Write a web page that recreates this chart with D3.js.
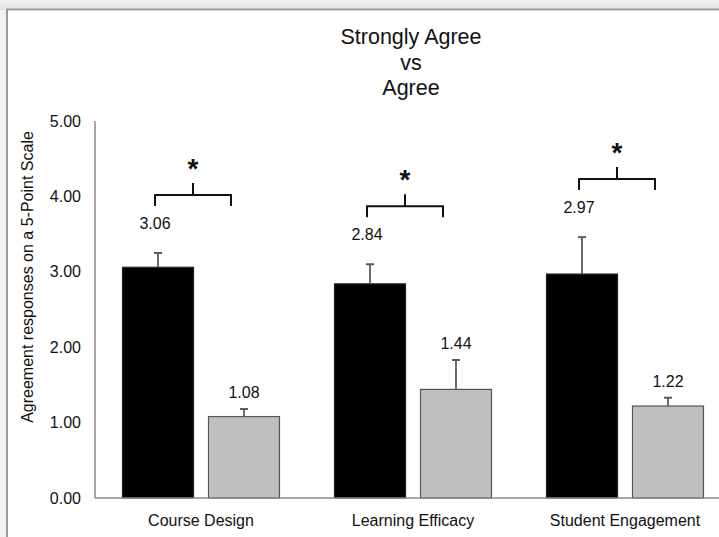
<!DOCTYPE html>
<html>
<head>
<meta charset="utf-8">
<script src="https://cdn.jsdelivr.net/npm/d3@7"></script>
<style>
  html, body { margin: 0; padding: 0; background: #ececec; }
  svg { display: block; }
  text { font-family: "Liberation Sans", Arial, Helvetica, sans-serif; fill: #111; }
</style>
</head>
<body>
<svg id="chart" width="719" height="537"></svg>
<script>
// Categories and series
const categories = ["Course Design", "Learning Efficacy", "Student Engagement"];
const seriesNames = ["Strongly Agree", "Agree"];
const stronglyAgree = [3.06, 2.84, 2.97];
const stronglyAgreeErr = [0.19, 0.26, 0.49];
const agree = [1.08, 1.44, 1.22];
const agreeErr = [0.10, 0.39, 0.11];
const significant = [true, true, true];
const yTicks = [0, 1, 2, 3, 4, 5];
const titleLines = ["Strongly Agree", "vs", "Agree"];
const yAxisTitle = "Agreement responses on a 5-Point Scale";

const svg = d3.select("#chart");
const W = 719, H = 537;

// Window-style backdrop with a framed white panel
const defs = svg.append("defs");
const grad = defs.append("linearGradient").attr("id", "topbar").attr("x1", 0).attr("x2", 0).attr("y1", 0).attr("y2", 1);
grad.append("stop").attr("offset", "0%").attr("stop-color", "#f4f4f4");
grad.append("stop").attr("offset", "100%").attr("stop-color", "#e2e2e2");
svg.append("rect").attr("x", 0).attr("y", 0).attr("width", W).attr("height", H).attr("fill", "#f1f1f1");
svg.append("rect").attr("x", 0).attr("y", 0).attr("width", W).attr("height", 10).attr("fill", "url(#topbar)");
svg.append("rect").attr("x", 7).attr("y", 9.5).attr("width", W + 20).attr("height", H + 20)
  .attr("fill", "#fff").attr("stroke", "#9a9a9a").attr("stroke-width", 2);

// Scales
const y = d3.scaleLinear().domain([0, 5]).range([498, 121]);
const x = d3.scaleBand().domain(categories).range([95, 731]).paddingInner(0).paddingOuter(0);
const xs = d3.scaleBand().domain(seriesNames).range([0, x.bandwidth()])
  .paddingInner(0.1744).paddingOuter(0.32);

const rows = categories.map((c, i) => ({
  cat: c,
  vals: [
    { s: seriesNames[0], v: stronglyAgree[i], e: stronglyAgreeErr[i] },
    { s: seriesNames[1], v: agree[i], e: agreeErr[i] }
  ],
  sig: significant[i]
}));

const fills = { "Strongly Agree": "#000000", "Agree": "#bfbfbf" };
const strokes = { "Strongly Agree": "#222", "Agree": "#555" };
const labelGap = { "Strongly Agree": 24, "Agree": 11 };
const labelShift = { "Strongly Agree": -3, "Agree": 0 };

// Title
svg.append("g").selectAll("text").data(titleLines).join("text")
  .attr("x", 411).attr("y", (d, i) => 44 + i * 25.5)
  .attr("text-anchor", "middle").attr("font-size", 21.5)
  .text(d => d);

// Y axis (line + labels, no tick marks)
const yAxis = d3.axisLeft(y).tickValues(yTicks).tickFormat(d3.format(".2f")).tickSize(0).tickPadding(14);
const gy = svg.append("g").attr("transform", "translate(95,0)").call(yAxis);
gy.select(".domain").attr("stroke", "#8a8a8a").attr("stroke-width", 1.5).attr("d", `M0,${y(5)}V${y(0)}`);
gy.selectAll(".tick text").attr("font-size", 16).attr("fill", "#111")
  .attr("font-family", "Liberation Sans, Arial, sans-serif");

// Y axis title
svg.append("text")
  .attr("transform", "translate(33,277) rotate(-90)")
  .attr("text-anchor", "middle").attr("font-size", 16)
  .text(yAxisTitle);

// Bars
const groups = svg.append("g").selectAll("g").data(rows).join("g")
  .attr("transform", d => `translate(${x(d.cat)},0)`);

groups.selectAll("rect").data(d => d.vals).join("rect")
  .attr("x", d => xs(d.s))
  .attr("y", d => y(d.v))
  .attr("width", xs.bandwidth())
  .attr("height", d => y(0) - y(d.v))
  .attr("fill", d => fills[d.s])
  .attr("stroke", d => strokes[d.s]).attr("stroke-width", 1.2);

// Error bars (upper whisker only)
const eb = groups.selectAll("g.err").data(d => d.vals).join("g").attr("class", "err");
eb.append("line")
  .attr("x1", d => xs(d.s) + xs.bandwidth() / 2).attr("x2", d => xs(d.s) + xs.bandwidth() / 2)
  .attr("y1", d => y(d.v)).attr("y2", d => y(d.v + d.e))
  .attr("stroke", "#5a5a5a").attr("stroke-width", 1.8);
eb.append("line")
  .attr("x1", d => xs(d.s) + xs.bandwidth() / 2 - 4).attr("x2", d => xs(d.s) + xs.bandwidth() / 2 + 4)
  .attr("y1", d => y(d.v + d.e)).attr("y2", d => y(d.v + d.e))
  .attr("stroke", "#5a5a5a").attr("stroke-width", 2);

// Value labels
groups.selectAll("text.val").data(d => d.vals).join("text").attr("class", "val")
  .attr("x", d => xs(d.s) + xs.bandwidth() / 2 + labelShift[d.s])
  .attr("y", d => y(d.v + d.e) - labelGap[d.s])
  .attr("text-anchor", "middle").attr("font-size", 16)
  .text(d => d3.format(".2f")(d.v));

// Significance brackets
const sig = groups.filter(d => d.sig).append("g").attr("class", "sig");
sig.each(function (d) {
  const g = d3.select(this);
  const top = d.vals[0];
  const xl = xs(top.s) + xs.bandwidth() / 2 - 3;
  const xr = xl + 76;
  const xm = (xl + xr) / 2;
  const yb = y(top.v + top.e) - 58;
  g.append("path")
    .attr("d", `M${xl},${yb + 11}V${yb}H${xr}V${yb + 11}M${xm},${yb}V${yb - 12}`)
    .attr("fill", "none").attr("stroke", "#111").attr("stroke-width", 2);
  g.append("text")
    .attr("x", xm).attr("y", yb - 12 - 5)
    .attr("text-anchor", "middle").attr("font-size", 28).attr("font-weight", "bold")
    .text("*");
});

// X axis
svg.append("line").attr("x1", 95).attr("x2", W).attr("y1", y(0)).attr("y2", y(0))
  .attr("stroke", "#8a8a8a").attr("stroke-width", 1.5);
svg.append("g").selectAll("text").data(categories).join("text")
  .attr("x", d => x(d) + x.bandwidth() / 2)
  .attr("y", 526)
  .attr("text-anchor", "middle").attr("font-size", 16)
  .text(d => d);
</script>
</body>
</html>
